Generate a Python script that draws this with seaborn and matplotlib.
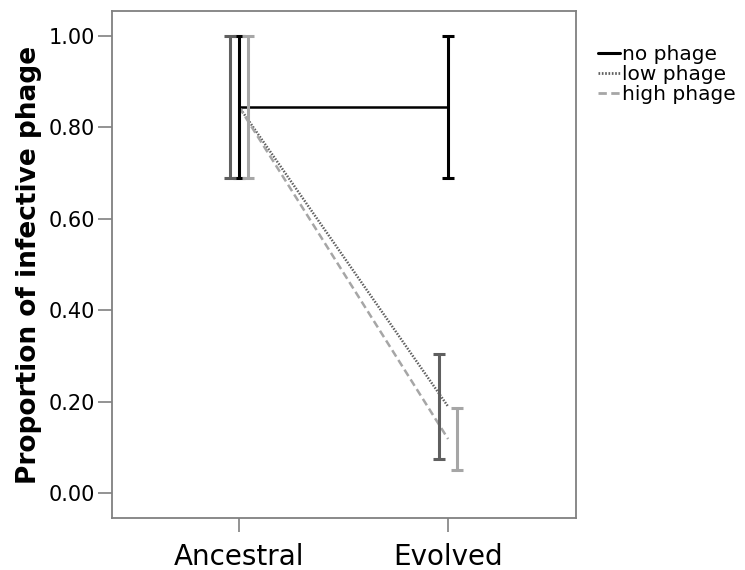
import matplotlib
matplotlib.use("Agg")
import matplotlib.pyplot as plt
import seaborn as sns
import pandas as pd
from matplotlib.lines import Line2D

groups = ["no phage", "low phage", "high phage"]
times = ["Ancestral", "Evolved"]
mean_anc = [0.845, 0.845, 0.845]
mean_evo = [0.845, 0.189, 0.118]
low_anc = [0.69, 0.69, 0.69]
high_anc = [1.00, 1.00, 1.00]
low_evo = [0.69, 0.075, 0.05]
high_evo = [1.00, 0.303, 0.186]
yticks = [0.0, 0.2, 0.4, 0.6, 0.8, 1.0]

colors = {"no phage": "#000000", "low phage": "#5f5f5f", "high phage": "#a6a6a6"}
dodge = {"no phage": 0.0, "low phage": -0.043, "high phage": 0.043}
dashes = {"no phage": "", "low phage": (0.6, 0.6), "high phage": (3, 1.6)}

rows = []
for i, g in enumerate(groups):
    rows.append(dict(group=g, time=times[0], x=0, mean=mean_anc[i], lo=low_anc[i], hi=high_anc[i]))
    rows.append(dict(group=g, time=times[1], x=1, mean=mean_evo[i], lo=low_evo[i], hi=high_evo[i]))
df = pd.DataFrame(rows)

sns.set_style("white")
plt.rcParams["font.family"] = ["DejaVu Sans"]
plt.rcParams["text.color"] = "black"
plt.rcParams["axes.labelcolor"] = "black"
plt.rcParams["xtick.labelcolor"] = "black"
plt.rcParams["ytick.labelcolor"] = "black"
fig = plt.figure(figsize=(7.45, 5.7), dpi=100)
ax = fig.add_axes([112 / 745, 1 - 518 / 570, 464 / 745, 507 / 570])

sns.lineplot(data=df, x="x", y="mean", hue="group", style="group",
             hue_order=groups, style_order=groups, palette=colors,
             dashes=dashes, linewidth=1.8, legend=False, ax=ax, zorder=2)

for _, r in df.iterrows():
    xx = r["x"] + dodge[r["group"]]
    ax.errorbar([xx], [r["mean"]], yerr=[[r["mean"] - r["lo"]], [r["hi"] - r["mean"]]],
                fmt="none", ecolor=colors[r["group"]], elinewidth=2.2, capsize=4.3,
                capthick=2.2, zorder=3)

ax.set_xlim(-0.608, 1.612)
ax.set_ylim(-0.055, 1.055)
ax.set_xticks([0, 1])
ax.set_xticklabels(times, fontsize=20, color="black")
ax.set_yticks(yticks)
ax.set_yticklabels([f"{v:.2f}" for v in yticks], fontsize=15, color="black")
ax.set_xlabel("")
ax.set_ylabel("Proportion of infective phage", fontsize=19, fontweight="bold",
              labelpad=5, color="black")
ax.tick_params(axis="both", which="both", direction="out", length=10, width=1.2, color="#808080",
               left=True, bottom=True, pad=2)
ax.tick_params(axis="x", pad=8)
for s in ax.spines.values():
    s.set_color("#808080")
    s.set_linewidth(1.3)

handles = [Line2D([0], [0], color=colors[g], lw=2.2 if g == "no phage" else 2,
                  linestyle="-" if g == "no phage" else (0, dashes[g])) for g in groups]
leg = fig.legend(handles, groups, loc="upper left", bbox_to_anchor=(598 / 745, 1 - 45 / 570),
                 frameon=False, fontsize=14.5, handlelength=1.1, handletextpad=0.1,
                 labelspacing=0.05, borderaxespad=0, borderpad=0)
for t in leg.get_texts():
    t.set_color("black")

fig.savefig("out.png", dpi=100)
